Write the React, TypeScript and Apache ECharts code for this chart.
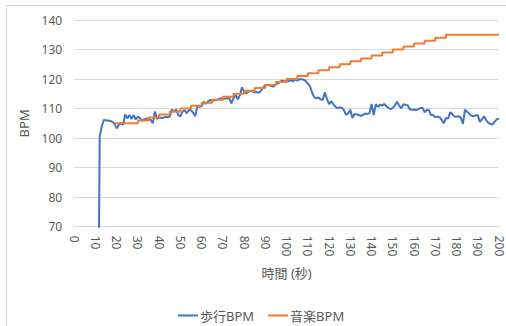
import React, { useEffect, useRef } from "react";
import * as echarts from "echarts";

const xTickLabels = [0, 10, 20, 30, 40, 50, 60, 70, 80, 90, 100, 110, 120, 130, 140, 150, 160, 170, 180, 190, 200];
const yTickLabels = [70, 80, 90, 100, 110, 120, 130, 140];

const walkName = "歩行BPM";
const musicName = "音楽BPM";

// walking BPM, one value per second starting at t = 11 s
const walkStart = 11;
const walkBpm = [
  0, 100.5, 104, 106.2, 106, 106, 105.8, 105.5, 104.8, 103.3,
  104.5, 105, 104.6, 108, 106.7, 107.8, 106.5, 107.8, 106.3, 107.3,
  106.8, 105.8, 106.5, 106.6, 106.3, 106.2, 105, 109, 106.5, 107,
  106.8, 107, 107.2, 107.1, 107.4, 109.7, 108.9, 109.7, 107.8, 107.4,
  109, 109.4, 108.4, 109.5, 109.4, 108.6, 107.5, 110.8, 110.6, 110.8,
  112.3, 111.6, 112.4, 112.9, 112.6, 112.8, 113, 113.2, 113.5, 113.2,
  113.4, 113.6, 113.5, 111.8, 113.5, 114.6, 113.1, 114.6, 117.2, 115.6,
  115.2, 115.7, 116, 115.8, 115.5, 115.6, 115.3, 116.2, 117.2, 118,
  118, 117.8, 117.6, 117.5, 118.2, 118.6, 119.2, 119.4, 119.2, 119.4,
  119.3, 119.6, 119.2, 119.9, 119.5, 119.9, 119.9, 119.8, 119.3, 118.5,
  117.5, 115.5, 113.8, 113.5, 113.8, 113.1, 113, 115.5, 113.2, 111.5,
  112.5, 111.5, 110.6, 110.1, 110.4, 110.3, 109.5, 107.9, 108.4, 109.6,
  106.8, 108.2, 108, 107.8, 107.5, 107.9, 108.3, 108.2, 108.4, 111.6,
  107.8, 111.5, 110.6, 111.3, 111, 111.6, 110.8, 110.2, 109.8, 110.3,
  111, 112.3, 111, 110.1, 111.5, 111.2, 111.1, 109.8, 109.6, 109.7,
  109.5, 109.8, 110.2, 110.3, 108.7, 109.6, 109.4, 107.8, 107.8, 107,
  107.3, 107.1, 106.2, 105, 106.8, 106.6, 108.7, 108.2, 107.3, 107.2,
  107.4, 107, 104.8, 109.6, 108.9, 108.2, 107.6, 107.4, 107.7, 107.8,
  105.5, 106.4, 107.4, 106, 105.2, 104.8, 104.6, 105.6, 106.4, 106.6,
];

// music BPM: the time (s) at which each tempo starts
const musicTimes = [
  19, 30, 35, 40, 45, 50, 55, 60, 65, 70, 75, 80, 85, 90, 95, 100,
  105, 110, 115, 120, 125, 130, 135, 140, 145, 150, 155, 160, 165, 170, 175, 200,
];
const musicBpm = [
  105, 106, 107, 108, 109, 110, 111, 112, 113, 114, 115, 116, 117, 118, 119, 120,
  121, 122, 123, 124, 125, 126, 127, 128, 129, 130, 131, 132, 133, 134, 135, 135,
];

const FONT = "'Noto Sans', 'Noto Sans CJK JP', sans-serif";
const TEXT = "#595959";
const GRID = "#d9d9d9";

export default function App() {
  const ref = useRef<HTMLDivElement>(null);
  useEffect(() => {
    if (!ref.current) return;
    const chart = echarts.init(ref.current, undefined, { renderer: "svg" });
    const walkData = walkBpm.map((v, i) => [walkStart + i, v]);
    const musicData = musicTimes.map((t, i) => [t, musicBpm[i]]);
    chart.setOption({
      animation: false,
      backgroundColor: "#ffffff",
      textStyle: { fontFamily: FONT },
      graphic: [
        {
          type: "rect",
          silent: true,
          shape: { x: 6.5, y: 5.5, width: 530, height: 340 },
          style: { fill: "none", stroke: GRID, lineWidth: 1 },
        },
      ],
      grid: { left: 74.2, right: 7, top: 20, bottom: 99.3, containLabel: false },
      legend: {
        left: 173,
        top: 304,
        icon: "rect",
        itemWidth: 20,
        itemHeight: 2,
        itemGap: 14,
        textStyle: { color: TEXT, fontSize: 13, fontFamily: FONT, padding: [0, 0, 0, -3] },
        data: [walkName, musicName],
      },
      xAxis: {
        type: "value",
        min: xTickLabels[0],
        max: xTickLabels[xTickLabels.length - 1],
        interval: 10,
        name: "時間 (秒)",
        nameLocation: "middle",
        nameGap: 40,
        nameTextStyle: { color: TEXT, fontSize: 13, fontFamily: FONT },
        axisLine: { show: true, lineStyle: { color: GRID, width: 1 } },
        axisTick: { show: false },
        splitLine: { show: false },
        axisLabel: { color: TEXT, fontSize: 12, rotate: -90, margin: 9, fontFamily: FONT },
      },
      yAxis: {
        type: "value",
        min: yTickLabels[0],
        max: yTickLabels[yTickLabels.length - 1],
        interval: 10,
        name: "BPM",
        nameLocation: "middle",
        nameRotate: 90,
        nameGap: 37,
        nameTextStyle: { color: TEXT, fontSize: 13, fontFamily: FONT },
        axisLine: { show: false },
        axisTick: { show: false },
        splitLine: { show: true, lineStyle: { color: GRID, width: 1 } },
        axisLabel: { color: TEXT, fontSize: 12, margin: 12, fontFamily: FONT },
      },
      series: [
        {
          name: walkName,
          type: "line",
          data: walkData,
          showSymbol: false,
          symbol: "none",
          clip: true,
          lineStyle: { color: "#4472C4", width: 2 },
          itemStyle: { color: "#4472C4" },
        },
        {
          name: musicName,
          type: "line",
          data: musicData,
          step: "end",
          showSymbol: false,
          symbol: "none",
          lineStyle: { color: "#ED7D31", width: 2 },
          itemStyle: { color: "#ED7D31" },
        },
      ],
    });
    return () => chart.dispose();
  }, []);
  return (
    <div
      ref={ref}
      style={{ position: "fixed", left: 0, top: 0, width: 506, height: 326, background: "#fff" }}
    />
  );
}
